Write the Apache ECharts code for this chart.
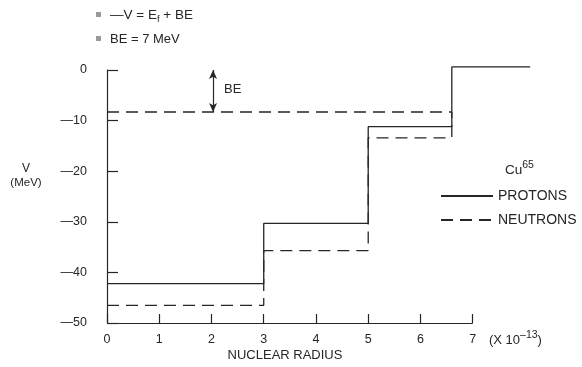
<!DOCTYPE html>
<html>
<head>
<meta charset="utf-8">
<script src="https://cdn.jsdelivr.net/npm/echarts@6/dist/echarts.min.js"></script>
<style>
  html, body { margin: 0; padding: 0; background: #fff; }
  #chart { width: 582px; height: 367px; }
</style>
</head>
<body>
<div id="chart"></div>
<script>
// Nuclear potential well for Cu-65: step potentials versus radius (units of 1e-13 cm)
const protonR = [0, 3, 3, 5, 5, 6.6, 6.6, 8.1];
const protonV = [-42.2, -42.2, -30.3, -30.3, -11.2, -11.2, 0.6, 0.6];
const neutronR = [0, 3, 3, 5, 5, 6.6, 6.6];
const neutronV = [-46.5, -46.5, -35.7, -35.7, -13.4, -13.4, -8.3];
// Top of the filled levels (binding energy below V = 0)
const levelR = [0, 6.6];
const levelV = [-8.3, -8.3];
const beArrowR = 2.03;
const xTicks = [0, 1, 2, 3, 4, 5, 6, 7];
const yTicks = [0, -10, -20, -30, -40, -50];
// Plot area runs a little past the last labelled radius so the outer step shows
const xPlotMax = 8.2;

const ink = '#262626';
const font = '"Liberation Sans", Arial, sans-serif';
const pairs = (xs, ys) => xs.map((x, i) => [x, ys[i]]);
const xFirst = xTicks[0], xLast = xTicks[xTicks.length - 1];
const yBottom = yTicks[yTicks.length - 1];

const chart = echarts.init(document.getElementById('chart'));
chart.setOption({
  animation: false,
  textStyle: { fontFamily: font, color: ink },
  grid: { left: 107, right: 46.6, top: 70, bottom: 44 },
  xAxis: {
    type: 'value', min: xFirst, max: xPlotMax, interval: 1,
    axisLine: { show: false, onZero: false },
    axisTick: { show: true, inside: true, length: 9, customValues: xTicks,
                lineStyle: { color: ink, width: 1.2 } },
    axisLabel: { margin: 10, fontSize: 12.5, color: ink, fontFamily: font, customValues: xTicks },
    splitLine: { show: false }
  },
  yAxis: {
    type: 'value', min: yBottom, max: yTicks[0], interval: 10,
    axisLine: { show: true, onZero: false, lineStyle: { color: ink, width: 1.2 } },
    axisTick: { show: true, inside: true, length: 11, lineStyle: { color: ink, width: 1.2 } },
    axisLabel: {
      margin: 20, fontSize: 12.5, color: ink, fontFamily: font,
      formatter: v => (v === 0 ? '0' : '\u2014' + Math.abs(v))
    },
    splitLine: { show: false }
  },
  legend: {
    data: ['PROTONS', 'NEUTRONS'],
    orient: 'vertical', left: 440, top: 189, padding: 0,
    itemWidth: 52, itemHeight: 12, itemGap: 10,
    itemStyle: { opacity: 0 },
    textStyle: { fontSize: 14, color: ink, fontFamily: font }
  },
  series: [
    {
      name: 'PROTONS', type: 'line', data: pairs(protonR, protonV),
      symbol: 'none', clip: false, color: ink,
      lineStyle: { color: ink, width: 1.3 }
    },
    {
      name: 'NEUTRONS', type: 'line', data: pairs(neutronR, neutronV),
      symbol: 'none', clip: false, color: ink,
      lineStyle: { color: ink, width: 1.3, type: [12, 7] }
    },
    {
      name: 'BE level', type: 'line', data: pairs(levelR, levelV),
      symbol: 'none', clip: false, color: ink,
      lineStyle: { color: ink, width: 1.3, type: [12, 7] },
      markLine: {
        silent: true, symbol: ['arrow', 'arrow'], symbolSize: [6, 9],
        lineStyle: { color: ink, width: 1.2, type: 'solid' },
        label: { show: false },
        data: [[{ coord: [beArrowR, 0] }, { coord: [beArrowR, levelV[0]] }]]
      }
    },
    {
      // radius axis baseline, drawn only over the labelled range
      name: 'radius axis', type: 'line', data: [], silent: true,
      markLine: {
        silent: true, symbol: ['none', 'none'],
        lineStyle: { color: ink, width: 1.2, type: 'solid' },
        label: { show: false },
        data: [[{ coord: [xFirst, yBottom] }, { coord: [xLast, yBottom] }]]
      }
    }
  ],
  graphic: [
    { type: 'rect', shape: { x: 96, y: 12, width: 5, height: 5 }, style: { fill: '#9a9a9a' } },
    { type: 'text', x: 110, y: 15, style: {
        text: '\u2014V = E{s|f} + BE', fontSize: 13.5, fontFamily: font, fill: ink, verticalAlign: 'middle',
        rich: { s: { fontSize: 9.5, padding: [8, 0, 0, 0], fontFamily: font, fill: ink } } } },
    { type: 'rect', shape: { x: 96, y: 36, width: 5, height: 5 }, style: { fill: '#9a9a9a' } },
    { type: 'text', x: 110, y: 39, style: {
        text: 'BE = 7 MeV', fontSize: 13, fontFamily: font, fill: ink, verticalAlign: 'middle' } },
    { type: 'text', x: 224, y: 89, style: {
        text: 'BE', fontSize: 13, fontFamily: font, fill: ink, verticalAlign: 'middle' } },
    { type: 'text', x: 505, y: 170, style: {
        text: 'Cu{p|65}', fontSize: 13.5, fontFamily: font, fill: ink, verticalAlign: 'middle',
        rich: { p: { fontSize: 10.5, padding: [0, 0, 10, 0], fontFamily: font, fill: ink } } } },
    { type: 'text', x: 489, y: 340, style: {
        text: '(X 10{p|\u201313})', fontSize: 13, fontFamily: font, fill: ink, verticalAlign: 'middle',
        rich: { p: { fontSize: 10.5, padding: [0, 0, 10, 0], fontFamily: font, fill: ink } } } },
    { type: 'text', x: 285, y: 355, style: {
        text: 'NUCLEAR RADIUS', fontSize: 13, fontFamily: font, fill: ink, align: 'center', verticalAlign: 'middle' } },
    { type: 'text', x: 26, y: 169, style: {
        text: 'V', fontSize: 12, fontFamily: font, fill: ink, align: 'center', verticalAlign: 'middle' } },
    { type: 'text', x: 26, y: 183, style: {
        text: '(MeV)', fontSize: 11.5, fontFamily: font, fill: ink, align: 'center', verticalAlign: 'middle' } }
  ]
});
</script>
</body>
</html>
